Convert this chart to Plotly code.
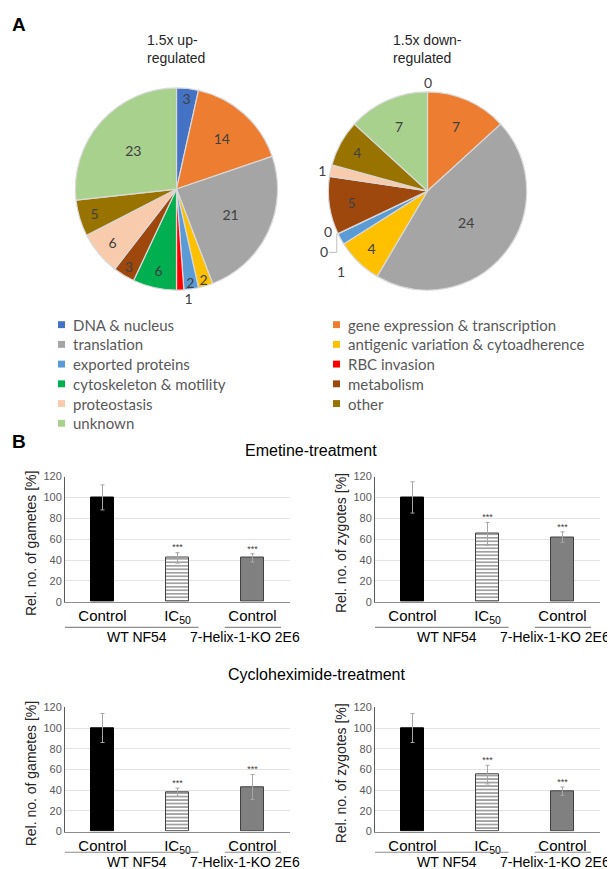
import plotly.graph_objects as go
import numpy as np

W, H = 615, 869

# ---------------- data ----------------
categories = ["DNA & nucleus", "gene expression & transcription", "translation",
              "antigenic variation & cytoadherence", "exported proteins", "RBC invasion",
              "cytoskeleton & motility", "metabolism", "proteostasis", "other", "unknown"]
colors = ["#4472C4", "#ED7D31", "#A5A5A5", "#FFC000", "#5B9BD5", "#FF0000",
          "#00B050", "#9E480E", "#F8CBAD", "#997300", "#A9D18E"]
up_counts = [3, 14, 21, 2, 2, 1, 6, 3, 6, 5, 23]
down_counts = [0, 7, 24, 4, 1, 0, 0, 5, 1, 4, 7]

bar_ticks = ["Control", "IC<sub>50</sub>", "Control"]
groups = ["WT NF54", "7-Helix-1-KO 2E6"]
emetine_gametes = [100, 42, 42]
emetine_gametes_err = [12, 5, 4]
emetine_zygotes = [100, 65, 62]
emetine_zygotes_err = [15, 11, 5]
cyclo_gametes = [100, 38, 43]
cyclo_gametes_err = [14, 4, 12]
cyclo_zygotes = [100, 55, 39]
cyclo_zygotes_err = [14, 9, 4]
significance = ["", "***", "***"]


def px(x):
    return x / W


def py(y):
    return 1 - y / H


fig = go.Figure()
annotations = []
shapes = []


def note(text, x, y, font, xref="paper", xanchor="center", yanchor="middle", **kw):
    d = dict(text=text, x=x, y=y, xref=xref, yref="paper", showarrow=False,
             xanchor=xanchor, yanchor=yanchor, font=font)
    d.update(kw)
    annotations.append(d)


LABEL_FONT = dict(family="Lato, Noto Sans, sans-serif", size=14, color="#404040")
ARIAL = "Liberation Sans, Arial"

# ---------------- pies ----------------
pie1_box = (66, 75, 271, 280)
pie2_box = (319, 79, 520, 280)

pos1 = ["outside" if v == 1 else "inside" for v in up_counts]
pos2 = []
for i, v in enumerate(down_counts):
    if categories[i] == "proteostasis":
        pos2.append("outside")
    elif v <= 1:
        pos2.append("none")
    else:
        pos2.append("inside")

for vals, box, pos in [(up_counts, pie1_box, pos1), (down_counts, pie2_box, pos2)]:
    l, t, r, b = box
    fig.add_trace(go.Pie(
        labels=categories, values=vals, sort=False, direction="clockwise", rotation=0,
        marker=dict(colors=colors, line=dict(color="#d9d9d9", width=1.2)),
        textinfo="value", textposition=pos, insidetextorientation="horizontal",
        textfont=LABEL_FONT, outsidetextfont=LABEL_FONT, insidetextfont=LABEL_FONT,
        domain=dict(x=[px(l), px(r)], y=[py(b), py(t)]),
        showlegend=False, hoverinfo="label+value",
    ))

# manual labels for pie 2 slices whose text plotly cannot place (zero / tiny)
l, t, r, b = pie2_box
cx, cy, rad = (l + r) / 2, (t + b) / 2, min(r - l, b - t) / 2
tot = sum(down_counts)
cum = np.concatenate([[0], np.cumsum(down_counts)])
cluster_order = {5: 0, 6: 1, 4: 2}
base_ang = np.deg2rad(cum[5] / tot * 360)
rim_x = cx + rad * np.sin(base_ang)
rim_y = cy - rad * np.cos(base_ang)
for i, v in enumerate(down_counts):
    if pos2[i] != "none":
        continue
    if i == 0:
        ang = np.deg2rad(cum[i] / tot * 360)
        xx, yy = cx + (rad + 10) * np.sin(ang), cy - (rad + 10) * np.cos(ang)
    else:
        o = cluster_order[i]
        xx = rim_x - 9 + (13 if i == 4 else 0) - (4 if o == 1 else 0)
        yy = rim_y - 2 + 20 * o
    note(str(v), px(xx), py(yy), LABEL_FONT)
# leader line for stacked zero labels
shapes.append(dict(type="path", xref="paper", yref="paper",
                   path=f"M {px(rim_x - 8)} {py(rim_y + 19)} L {px(rim_x)} {py(rim_y + 19)} "
                        f"L {px(rim_x)} {py(rim_y)}",
                   line=dict(color="#bfbfbf", width=1)))

# pie titles
TFONT = dict(family=ARIAL, size=14, color="#262626")
note("1.5x up-<br>regulated", px(137), py(35), TFONT, xanchor="left", align="left")
note("1.5x down-<br>regulated", px(383), py(35), TFONT, xanchor="left", align="left")

# manual two-column legend
for i, (cat, col) in enumerate(zip(categories, colors)):
    row, c = i // 2, i % 2
    sx = 50 if c == 0 else 325
    ty = 315 + 20 * row
    shapes.append(dict(type="rect", xref="paper", yref="paper",
                       x0=px(sx), x1=px(sx + 7), y0=py(ty + 3.5), y1=py(ty - 3.5),
                       fillcolor=col, line=dict(width=0)))
    note(cat, px(sx + 13), py(ty), dict(family="Lato, sans-serif", size=15, color="#595959"),
         xanchor="left")

# panel letters
note("<b>A</b>", px(2), py(11), dict(family=ARIAL, size=19, color="black"), xanchor="left")
note("<b>B</b>", px(2), py(433), dict(family=ARIAL, size=19, color="black"), xanchor="left")

# ---------------- bar charts ----------------
charts = [
    # vals, errs, left px, axis0 px, top px, ytitle, line offset, group label offset
    (emetine_gametes, emetine_gametes_err, 57, 596, 469, "Rel. no. of gametes [%]", 26, 36),
    (emetine_zygotes, emetine_zygotes_err, 367, 596, 469, "Rel. no. of zygotes [%]", 26, 36),
    (cyclo_gametes, cyclo_gametes_err, 57, 829, 703, "Rel. no. of gametes [%]", 21, 31),
    (cyclo_zygotes, cyclo_zygotes_err, 367, 829, 703, "Rel. no. of zygotes [%]", 21, 31),
]
xpos = [0, 1, 2]
layout_axes = {}
for k, (vals, errs, left, base, top, ytitle, loff, goff) in enumerate(charts):
    n = "" if k == 0 else str(k + 1)
    xa, ya = "x" + n, "y" + n
    fig.add_trace(go.Bar(
        x=xpos, y=vals, width=0.31, xaxis=xa, yaxis=ya, showlegend=False,
        marker=dict(color=["black", "white", "#808080"],
                    line=dict(color=["black", "#404040", "#404040"], width=1),
                    pattern=dict(shape=["", "-", ""], fgcolor="black", bgcolor="white",
                                 size=3.5, solidity=0.5)),
        error_y=dict(type="data", array=errs, color="#a6a6a6", thickness=1, width=2),
    ))
    sig_idx = [j for j, s in enumerate(significance) if s]
    fig.add_trace(go.Scatter(
        x=[xpos[j] for j in sig_idx], y=[vals[j] + errs[j] for j in sig_idx],
        text=[significance[j] for j in sig_idx], mode="text",
        textposition="top center", xaxis=xa, yaxis=ya, showlegend=False,
        textfont=dict(family=ARIAL, size=9, color="#404040"), hoverinfo="skip",
    ))
    layout_axes["xaxis" + n] = dict(
        domain=[px(left), px(left + 225)], range=[-0.5, 2.5], anchor=ya,
        tickvals=xpos, ticktext=bar_ticks, showline=True, linecolor="#8c8c8c",
        showgrid=False, zeroline=False, ticks="",
        tickfont=dict(family=ARIAL, size=15, color="black"))
    layout_axes["yaxis" + n] = dict(
        domain=[py(base), py(top)], range=[0, 120], dtick=20, anchor=xa,
        showgrid=True, gridcolor="#e3e3e3", showline=True, linecolor="#595959",
        zeroline=False, ticks="", tickfont=dict(family=ARIAL, size=11, color="#595959"))
    note(ytitle, px(left - 34), py((base + top) / 2 + 4),
         dict(family=ARIAL, size=14, color="#262626"), textangle=-90)
    # group lines and labels
    for (g, x0, x1, xc) in [(groups[0], -0.55, 1.28, 0.46), (groups[1], 1.63, 2.38, 1.9)]:
        shapes.append(dict(type="line", xref=xa, yref="paper", x0=x0, x1=x1,
                           y0=py(base + loff), y1=py(base + loff),
                           line=dict(color="#8c8c8c", width=1.2)))
        note(g, xc, py(base + goff), dict(family=ARIAL, size=14, color="black"), xref=xa)

note("Emetine-treatment", px(303), py(443), dict(family=ARIAL, size=16, color="black"))
note("Cycloheximide-treatment", px(309), py(670), dict(family=ARIAL, size=16, color="black"))

fig.update_layout(
    width=W, height=H, margin=dict(l=0, r=0, t=0, b=0),
    paper_bgcolor="white", plot_bgcolor="white",
    annotations=annotations, shapes=shapes,
    uniformtext=dict(minsize=14, mode="show"),
    bargap=0, **layout_axes,
)

fig.write_html("out.html")
